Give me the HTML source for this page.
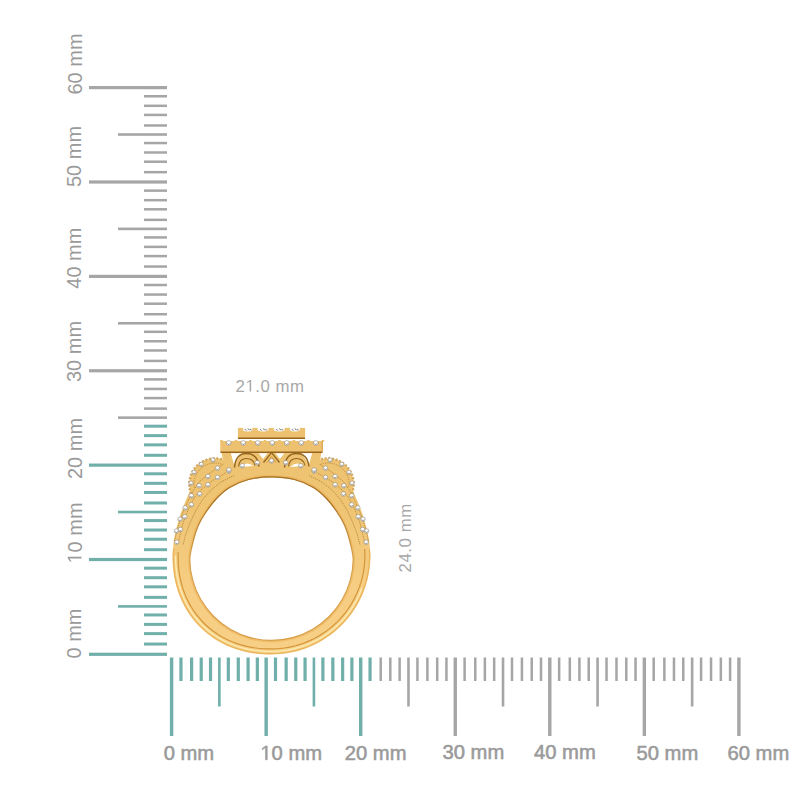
<!DOCTYPE html>
<html><head><meta charset="utf-8"><style>
html,body{margin:0;padding:0;background:#fff;width:800px;height:800px;overflow:hidden}
svg{display:block;font-family:"Liberation Sans",sans-serif}
</style></head><body>
<svg width="800" height="800" viewBox="0 0 800 800">
<rect width="800" height="800" fill="#fff"/>
<rect x="89" y="652.70" width="78" height="3.2" fill="#70afaa"/>
<rect x="144" y="642.56" width="23" height="3.0" fill="#70afaa"/>
<rect x="144" y="632.12" width="23" height="3.0" fill="#70afaa"/>
<rect x="144" y="622.89" width="23" height="3.0" fill="#70afaa"/>
<rect x="144" y="613.45" width="23" height="3.0" fill="#70afaa"/>
<rect x="118" y="605.11" width="49" height="2.6" fill="#70afaa"/>
<rect x="144" y="595.87" width="23" height="3.0" fill="#70afaa"/>
<rect x="144" y="585.33" width="23" height="3.0" fill="#70afaa"/>
<rect x="144" y="576.20" width="23" height="3.0" fill="#70afaa"/>
<rect x="144" y="566.66" width="23" height="3.0" fill="#70afaa"/>
<rect x="89" y="557.92" width="78" height="3.2" fill="#70afaa"/>
<rect x="144" y="548.18" width="23" height="3.0" fill="#70afaa"/>
<rect x="144" y="537.74" width="23" height="3.0" fill="#70afaa"/>
<rect x="144" y="528.51" width="23" height="3.0" fill="#70afaa"/>
<rect x="144" y="519.07" width="23" height="3.0" fill="#70afaa"/>
<rect x="118" y="510.73" width="49" height="2.6" fill="#70afaa"/>
<rect x="144" y="501.49" width="23" height="3.0" fill="#70afaa"/>
<rect x="144" y="490.95" width="23" height="3.0" fill="#70afaa"/>
<rect x="144" y="481.82" width="23" height="3.0" fill="#70afaa"/>
<rect x="144" y="472.28" width="23" height="3.0" fill="#70afaa"/>
<rect x="89" y="463.54" width="78" height="3.2" fill="#70afaa"/>
<rect x="144" y="453.80" width="23" height="3.0" fill="#70afaa"/>
<rect x="144" y="443.36" width="23" height="3.0" fill="#70afaa"/>
<rect x="144" y="434.13" width="23" height="3.0" fill="#70afaa"/>
<rect x="144" y="424.69" width="23" height="3.0" fill="#70afaa"/>
<rect x="118" y="416.35" width="49" height="2.6" fill="#a6a6a6"/>
<rect x="144" y="407.36" width="23" height="2.5" fill="#a6a6a6"/>
<rect x="144" y="396.82" width="23" height="2.5" fill="#a6a6a6"/>
<rect x="144" y="387.69" width="23" height="2.5" fill="#a6a6a6"/>
<rect x="144" y="378.15" width="23" height="2.5" fill="#a6a6a6"/>
<rect x="89" y="369.16" width="78" height="3.2" fill="#a6a6a6"/>
<rect x="144" y="359.67" width="23" height="2.5" fill="#a6a6a6"/>
<rect x="144" y="349.23" width="23" height="2.5" fill="#a6a6a6"/>
<rect x="144" y="340.00" width="23" height="2.5" fill="#a6a6a6"/>
<rect x="144" y="330.56" width="23" height="2.5" fill="#a6a6a6"/>
<rect x="118" y="321.97" width="49" height="2.6" fill="#a6a6a6"/>
<rect x="144" y="312.98" width="23" height="2.5" fill="#a6a6a6"/>
<rect x="144" y="302.44" width="23" height="2.5" fill="#a6a6a6"/>
<rect x="144" y="293.31" width="23" height="2.5" fill="#a6a6a6"/>
<rect x="144" y="283.77" width="23" height="2.5" fill="#a6a6a6"/>
<rect x="89" y="274.78" width="78" height="3.2" fill="#a6a6a6"/>
<rect x="144" y="265.29" width="23" height="2.5" fill="#a6a6a6"/>
<rect x="144" y="254.85" width="23" height="2.5" fill="#a6a6a6"/>
<rect x="144" y="245.62" width="23" height="2.5" fill="#a6a6a6"/>
<rect x="144" y="236.18" width="23" height="2.5" fill="#a6a6a6"/>
<rect x="118" y="227.59" width="49" height="2.6" fill="#a6a6a6"/>
<rect x="144" y="218.60" width="23" height="2.5" fill="#a6a6a6"/>
<rect x="144" y="208.06" width="23" height="2.5" fill="#a6a6a6"/>
<rect x="144" y="198.93" width="23" height="2.5" fill="#a6a6a6"/>
<rect x="144" y="189.39" width="23" height="2.5" fill="#a6a6a6"/>
<rect x="89" y="180.40" width="78" height="3.2" fill="#a6a6a6"/>
<rect x="144" y="170.91" width="23" height="2.5" fill="#a6a6a6"/>
<rect x="144" y="160.47" width="23" height="2.5" fill="#a6a6a6"/>
<rect x="144" y="151.24" width="23" height="2.5" fill="#a6a6a6"/>
<rect x="144" y="141.80" width="23" height="2.5" fill="#a6a6a6"/>
<rect x="118" y="133.21" width="49" height="2.6" fill="#a6a6a6"/>
<rect x="144" y="124.22" width="23" height="2.5" fill="#a6a6a6"/>
<rect x="144" y="113.68" width="23" height="2.5" fill="#a6a6a6"/>
<rect x="144" y="104.55" width="23" height="2.5" fill="#a6a6a6"/>
<rect x="144" y="95.01" width="23" height="2.5" fill="#a6a6a6"/>
<rect x="89" y="86.02" width="78" height="3.2" fill="#a6a6a6"/>
<rect x="169.90" y="657.5" width="3.4" height="78.5" fill="#70afaa"/>
<rect x="179.36" y="657.5" width="3.2" height="23.5" fill="#70afaa"/>
<rect x="190.01" y="657.5" width="3.2" height="23.5" fill="#70afaa"/>
<rect x="199.62" y="657.5" width="3.2" height="23.5" fill="#70afaa"/>
<rect x="208.92" y="657.5" width="3.2" height="23.5" fill="#70afaa"/>
<rect x="218.07" y="657.5" width="2.6" height="49.0" fill="#70afaa"/>
<rect x="226.73" y="657.5" width="3.2" height="23.5" fill="#70afaa"/>
<rect x="236.69" y="657.5" width="3.2" height="23.5" fill="#70afaa"/>
<rect x="246.49" y="657.5" width="3.2" height="23.5" fill="#70afaa"/>
<rect x="255.74" y="657.5" width="3.2" height="23.5" fill="#70afaa"/>
<rect x="264.45" y="657.5" width="3.4" height="78.5" fill="#70afaa"/>
<rect x="273.90" y="657.5" width="3.2" height="23.5" fill="#70afaa"/>
<rect x="284.56" y="657.5" width="3.2" height="23.5" fill="#70afaa"/>
<rect x="294.16" y="657.5" width="3.2" height="23.5" fill="#70afaa"/>
<rect x="303.47" y="657.5" width="3.2" height="23.5" fill="#70afaa"/>
<rect x="312.62" y="657.5" width="2.6" height="49.0" fill="#70afaa"/>
<rect x="321.28" y="657.5" width="3.2" height="23.5" fill="#70afaa"/>
<rect x="331.24" y="657.5" width="3.2" height="23.5" fill="#70afaa"/>
<rect x="341.04" y="657.5" width="3.2" height="23.5" fill="#70afaa"/>
<rect x="350.29" y="657.5" width="3.2" height="23.5" fill="#70afaa"/>
<rect x="359.00" y="657.5" width="3.4" height="78.5" fill="#70afaa"/>
<rect x="368.45" y="657.5" width="3.2" height="23.5" fill="#70afaa"/>
<rect x="379.46" y="657.5" width="2.5" height="23.5" fill="#a6a6a6"/>
<rect x="389.06" y="657.5" width="2.5" height="23.5" fill="#a6a6a6"/>
<rect x="398.37" y="657.5" width="2.5" height="23.5" fill="#a6a6a6"/>
<rect x="407.18" y="657.5" width="2.6" height="49.0" fill="#a6a6a6"/>
<rect x="416.18" y="657.5" width="2.5" height="23.5" fill="#a6a6a6"/>
<rect x="426.13" y="657.5" width="2.5" height="23.5" fill="#a6a6a6"/>
<rect x="435.94" y="657.5" width="2.5" height="23.5" fill="#a6a6a6"/>
<rect x="445.19" y="657.5" width="2.5" height="23.5" fill="#a6a6a6"/>
<rect x="453.55" y="657.5" width="3.4" height="78.5" fill="#a6a6a6"/>
<rect x="463.36" y="657.5" width="2.5" height="23.5" fill="#a6a6a6"/>
<rect x="474.01" y="657.5" width="2.5" height="23.5" fill="#a6a6a6"/>
<rect x="483.62" y="657.5" width="2.5" height="23.5" fill="#a6a6a6"/>
<rect x="492.92" y="657.5" width="2.5" height="23.5" fill="#a6a6a6"/>
<rect x="501.72" y="657.5" width="2.6" height="49.0" fill="#a6a6a6"/>
<rect x="510.73" y="657.5" width="2.5" height="23.5" fill="#a6a6a6"/>
<rect x="520.68" y="657.5" width="2.5" height="23.5" fill="#a6a6a6"/>
<rect x="530.49" y="657.5" width="2.5" height="23.5" fill="#a6a6a6"/>
<rect x="539.75" y="657.5" width="2.5" height="23.5" fill="#a6a6a6"/>
<rect x="548.10" y="657.5" width="3.4" height="78.5" fill="#a6a6a6"/>
<rect x="557.90" y="657.5" width="2.5" height="23.5" fill="#a6a6a6"/>
<rect x="568.56" y="657.5" width="2.5" height="23.5" fill="#a6a6a6"/>
<rect x="578.16" y="657.5" width="2.5" height="23.5" fill="#a6a6a6"/>
<rect x="587.47" y="657.5" width="2.5" height="23.5" fill="#a6a6a6"/>
<rect x="596.28" y="657.5" width="2.6" height="49.0" fill="#a6a6a6"/>
<rect x="605.28" y="657.5" width="2.5" height="23.5" fill="#a6a6a6"/>
<rect x="615.24" y="657.5" width="2.5" height="23.5" fill="#a6a6a6"/>
<rect x="625.04" y="657.5" width="2.5" height="23.5" fill="#a6a6a6"/>
<rect x="634.29" y="657.5" width="2.5" height="23.5" fill="#a6a6a6"/>
<rect x="642.65" y="657.5" width="3.4" height="78.5" fill="#a6a6a6"/>
<rect x="652.45" y="657.5" width="2.5" height="23.5" fill="#a6a6a6"/>
<rect x="663.11" y="657.5" width="2.5" height="23.5" fill="#a6a6a6"/>
<rect x="672.72" y="657.5" width="2.5" height="23.5" fill="#a6a6a6"/>
<rect x="682.02" y="657.5" width="2.5" height="23.5" fill="#a6a6a6"/>
<rect x="690.83" y="657.5" width="2.6" height="49.0" fill="#a6a6a6"/>
<rect x="699.83" y="657.5" width="2.5" height="23.5" fill="#a6a6a6"/>
<rect x="709.79" y="657.5" width="2.5" height="23.5" fill="#a6a6a6"/>
<rect x="719.59" y="657.5" width="2.5" height="23.5" fill="#a6a6a6"/>
<rect x="728.85" y="657.5" width="2.5" height="23.5" fill="#a6a6a6"/>
<rect x="737.20" y="657.5" width="3.4" height="78.5" fill="#a6a6a6"/>
<text x="163.70" y="759.60" font-size="20.2" fill="#9a9a9a" stroke="#9a9a9a" stroke-width="0.55">0 mm</text>
<path d="M515,0 L515,1237 L197,1010 L197,1180 L530,1409 L696,1409 L696,0 Z" fill="#9a9a9a" stroke="#9a9a9a" stroke-width="55.8" transform="translate(260.40,759.80) scale(0.009863,-0.009863)"/>
<text x="260.40" y="759.80" font-size="20.2" fill="#9a9a9a" stroke="#9a9a9a" stroke-width="0.55"> 0 mm</text>
<text x="344.80" y="760.00" font-size="20.2" fill="#9a9a9a" stroke="#9a9a9a" stroke-width="0.55">20 mm</text>
<text x="442.50" y="758.50" font-size="20.2" fill="#9a9a9a" stroke="#9a9a9a" stroke-width="0.55">30 mm</text>
<text x="534.00" y="758.50" font-size="20.2" fill="#9a9a9a" stroke="#9a9a9a" stroke-width="0.55">40 mm</text>
<text x="636.50" y="759.75" font-size="20.2" fill="#9a9a9a" stroke="#9a9a9a" stroke-width="0.55">50 mm</text>
<text x="727.50" y="760.00" font-size="20.2" fill="#9a9a9a" stroke="#9a9a9a" stroke-width="0.55">60 mm</text>
<text transform="translate(81.20,658.50) rotate(-90)" font-size="20" fill="#9a9a9a">0 mm</text>
<g transform="translate(81.50,563.50) rotate(-90)"><path d="M515,0 L515,1237 L197,1010 L197,1180 L530,1409 L696,1409 L696,0 Z" fill="#9a9a9a" transform="translate(0.00,0.00) scale(0.009766,-0.009766)"/></g>
<text transform="translate(81.50,563.50) rotate(-90)" font-size="20" fill="#9a9a9a"> 0 mm</text>
<text transform="translate(82.00,479.00) rotate(-90)" font-size="20" fill="#9a9a9a">20 mm</text>
<text transform="translate(80.50,382.00) rotate(-90)" font-size="20" fill="#9a9a9a">30 mm</text>
<text transform="translate(80.70,288.70) rotate(-90)" font-size="20" fill="#9a9a9a">40 mm</text>
<text transform="translate(81.00,187.00) rotate(-90)" font-size="20" fill="#9a9a9a">50 mm</text>
<text transform="translate(82.00,94.50) rotate(-90)" font-size="20" fill="#9a9a9a">60 mm</text>
<path d="M515,0 L515,1237 L197,1010 L197,1180 L530,1409 L696,1409 L696,0 Z" fill="#a8a8a8" transform="translate(245.44,391.60) scale(0.008203,-0.008203)"/>
<text x="235.60" y="391.60" font-size="16.8" letter-spacing="0.5" fill="#a8a8a8">2 .0 mm</text>
<text transform="translate(411.10,572.40) rotate(-90)" font-size="16.8" letter-spacing="0.55" fill="#a8a8a8">24.0 mm</text>
<defs><linearGradient id="goldg" gradientUnits="userSpaceOnUse" x1="0" y1="430" x2="0" y2="655"><stop offset="0" stop-color="#ECC06E"/><stop offset="0.35" stop-color="#EFC574"/><stop offset="0.7" stop-color="#F6CD82"/><stop offset="1" stop-color="#F7CF86"/></linearGradient></defs>
<path d="M271.50,461.50 L250.00,462.50 L232.00,466.00 L214.00,474.00 L198.00,484.00 L190.40,489.90 L185.60,500.90 L180.80,513.25 L176.70,527.00 L173.90,539.40 L172.60,553.00 L172.56,560.69 L172.83,565.87 L173.35,571.05 L174.11,576.20 L175.12,581.32 L176.40,586.40 L177.95,591.41 L179.77,596.34 L181.86,601.17 L184.23,605.89 L186.86,610.47 L189.76,614.89 L192.91,619.14 L196.31,623.20 L199.94,627.06 L203.80,630.69 L207.86,634.09 L212.11,637.24 L216.53,640.14 L221.11,642.77 L225.83,645.14 L230.66,647.23 L235.59,649.05 L240.60,650.60 L245.68,651.88 L250.80,652.89 L255.95,653.65 L261.13,654.17 L266.31,654.44 L271.50,654.50 L276.68,654.36 L281.85,653.96 L286.99,653.28 L292.08,652.34 L297.12,651.13 L302.09,649.65 L306.98,647.92 L311.77,645.94 L316.45,643.71 L321.00,641.24 L325.42,638.53 L329.69,635.59 L333.80,632.44 L337.74,629.07 L341.50,625.50 L345.07,621.74 L348.44,617.80 L351.59,613.69 L354.53,609.42 L357.24,605.00 L359.71,600.45 L361.94,595.77 L363.92,590.98 L365.65,586.09 L367.13,581.12 L368.34,576.08 L369.28,570.99 L369.96,565.85 L370.36,560.68 L370.50,555.50 L369.10,539.40 L366.30,527.00 L362.20,513.25 L357.40,500.90 L352.60,489.90 L345.00,484.00 L329.00,474.00 L311.00,466.00 L293.00,462.50 L271.50,461.50 Z" fill="url(#goldg)"/>
<circle cx="215" cy="484" r="25.6" fill="url(#goldg)"/>
<circle cx="190.76" cy="492.82" r="0.9" fill="url(#goldg)" stroke="#B07E30" stroke-width="0.5"/>
<circle cx="189.74" cy="489.26" r="0.9" fill="url(#goldg)" stroke="#B07E30" stroke-width="0.5"/>
<circle cx="189.25" cy="485.59" r="0.9" fill="url(#goldg)" stroke="#B07E30" stroke-width="0.5"/>
<circle cx="189.29" cy="481.88" r="0.9" fill="url(#goldg)" stroke="#B07E30" stroke-width="0.5"/>
<circle cx="189.86" cy="478.22" r="0.9" fill="url(#goldg)" stroke="#B07E30" stroke-width="0.5"/>
<circle cx="190.94" cy="474.68" r="0.9" fill="url(#goldg)" stroke="#B07E30" stroke-width="0.5"/>
<circle cx="192.53" cy="471.33" r="0.9" fill="url(#goldg)" stroke="#B07E30" stroke-width="0.5"/>
<circle cx="194.57" cy="468.24" r="0.9" fill="url(#goldg)" stroke="#B07E30" stroke-width="0.5"/>
<circle cx="197.04" cy="465.48" r="0.9" fill="url(#goldg)" stroke="#B07E30" stroke-width="0.5"/>
<circle cx="199.88" cy="463.10" r="0.9" fill="url(#goldg)" stroke="#B07E30" stroke-width="0.5"/>
<circle cx="203.03" cy="461.15" r="0.9" fill="url(#goldg)" stroke="#B07E30" stroke-width="0.5"/>
<circle cx="206.43" cy="459.67" r="0.9" fill="url(#goldg)" stroke="#B07E30" stroke-width="0.5"/>
<circle cx="210.00" cy="458.69" r="0.9" fill="url(#goldg)" stroke="#B07E30" stroke-width="0.5"/>
<circle cx="213.68" cy="458.23" r="0.9" fill="url(#goldg)" stroke="#B07E30" stroke-width="0.5"/>
<circle cx="217.38" cy="458.31" r="0.9" fill="url(#goldg)" stroke="#B07E30" stroke-width="0.5"/>
<circle cx="221.04" cy="458.92" r="0.9" fill="url(#goldg)" stroke="#B07E30" stroke-width="0.5"/>
<circle cx="224.57" cy="460.04" r="0.9" fill="url(#goldg)" stroke="#B07E30" stroke-width="0.5"/>
<circle cx="227.90" cy="461.66" r="0.9" fill="url(#goldg)" stroke="#B07E30" stroke-width="0.5"/>
<path d="M194.32,487.65 L194.12,486.20 L194.01,484.73 L194.01,483.27 L194.12,481.80 L194.32,480.35 L194.62,478.92 L195.03,477.51 L195.53,476.13 L196.13,474.79 L196.81,473.50 L197.59,472.26 L198.45,471.07 L199.39,469.95 L200.41,468.89 L201.50,467.91 L202.66,467.01 L203.87,466.19 L205.14,465.46 L206.46,464.82 L207.82,464.27 L209.21,463.81 L210.63,463.46 L212.08,463.20 L213.54,463.05 L215.00,463.00 L216.46,463.05 L217.92,463.20 L219.37,463.46 L220.79,463.81 L222.18,464.27" fill="none" stroke="#B07E30" stroke-width="0.7" stroke-dasharray="1.2 1"/>
<circle cx="328" cy="484" r="25.6" fill="url(#goldg)"/>
<circle cx="315.10" cy="461.66" r="0.9" fill="url(#goldg)" stroke="#B07E30" stroke-width="0.5"/>
<circle cx="318.43" cy="460.04" r="0.9" fill="url(#goldg)" stroke="#B07E30" stroke-width="0.5"/>
<circle cx="321.96" cy="458.92" r="0.9" fill="url(#goldg)" stroke="#B07E30" stroke-width="0.5"/>
<circle cx="325.62" cy="458.31" r="0.9" fill="url(#goldg)" stroke="#B07E30" stroke-width="0.5"/>
<circle cx="329.32" cy="458.23" r="0.9" fill="url(#goldg)" stroke="#B07E30" stroke-width="0.5"/>
<circle cx="333.00" cy="458.69" r="0.9" fill="url(#goldg)" stroke="#B07E30" stroke-width="0.5"/>
<circle cx="336.57" cy="459.67" r="0.9" fill="url(#goldg)" stroke="#B07E30" stroke-width="0.5"/>
<circle cx="339.97" cy="461.15" r="0.9" fill="url(#goldg)" stroke="#B07E30" stroke-width="0.5"/>
<circle cx="343.12" cy="463.10" r="0.9" fill="url(#goldg)" stroke="#B07E30" stroke-width="0.5"/>
<circle cx="345.96" cy="465.48" r="0.9" fill="url(#goldg)" stroke="#B07E30" stroke-width="0.5"/>
<circle cx="348.43" cy="468.24" r="0.9" fill="url(#goldg)" stroke="#B07E30" stroke-width="0.5"/>
<circle cx="350.47" cy="471.33" r="0.9" fill="url(#goldg)" stroke="#B07E30" stroke-width="0.5"/>
<circle cx="352.06" cy="474.68" r="0.9" fill="url(#goldg)" stroke="#B07E30" stroke-width="0.5"/>
<circle cx="353.14" cy="478.22" r="0.9" fill="url(#goldg)" stroke="#B07E30" stroke-width="0.5"/>
<circle cx="353.71" cy="481.88" r="0.9" fill="url(#goldg)" stroke="#B07E30" stroke-width="0.5"/>
<circle cx="353.75" cy="485.59" r="0.9" fill="url(#goldg)" stroke="#B07E30" stroke-width="0.5"/>
<circle cx="353.26" cy="489.26" r="0.9" fill="url(#goldg)" stroke="#B07E30" stroke-width="0.5"/>
<circle cx="352.24" cy="492.82" r="0.9" fill="url(#goldg)" stroke="#B07E30" stroke-width="0.5"/>
<path d="M320.82,464.27 L322.21,463.81 L323.63,463.46 L325.08,463.20 L326.54,463.05 L328.00,463.00 L329.46,463.05 L330.92,463.20 L332.37,463.46 L333.79,463.81 L335.18,464.27 L336.54,464.82 L337.86,465.46 L339.13,466.19 L340.34,467.01 L341.50,467.91 L342.59,468.89 L343.61,469.95 L344.55,471.07 L345.41,472.26 L346.19,473.50 L346.87,474.79 L347.47,476.13 L347.97,477.51 L348.38,478.92 L348.68,480.35 L348.88,481.80 L348.99,483.27 L348.99,484.73 L348.88,486.20 L348.68,487.65" fill="none" stroke="#B07E30" stroke-width="0.7" stroke-dasharray="1.2 1"/>
<path d="M178.16,552.24 L178.10,556.03 L178.14,559.82 L178.29,563.61 L178.58,567.40 L179.00,571.19 L179.57,574.96 L180.28,578.71 L181.14,582.44 L182.15,586.14 L183.31,589.79 L184.63,593.41 L186.10,596.97 L187.73,600.46 L189.51,603.89 L191.45,607.24 L193.53,610.50 L195.77,613.66 L198.15,616.72 L200.66,619.67 L203.31,622.51 L206.09,625.21 L208.99,627.79 L212.01,630.23 L215.13,632.52 L218.35,634.67 L221.66,636.67 L225.05,638.52 L228.52,640.22 L232.05,641.76 L235.65,643.14 L239.29,644.37 L242.97,645.45 L246.68,646.37 L250.43,647.14 L254.19,647.77 L257.97,648.25 L261.76,648.60 L265.55,648.81 L269.34,648.90 L273.13,648.89 L276.92,648.74 L280.70,648.45 L284.46,648.00 L288.20,647.39 L291.91,646.64 L295.59,645.74 L299.24,644.69 L302.83,643.49 L306.37,642.14 L309.86,640.66 L313.28,639.03 L316.64,637.27 L319.92,635.37 L323.12,633.34 L326.23,631.18 L329.26,628.90 L332.19,626.50 L335.02,623.97 L337.75,621.34 L340.36,618.60 L342.86,615.75 L345.25,612.81 L347.51,609.77 L349.65,606.64 L351.66,603.43 L353.54,600.14 L355.29,596.77 L356.89,593.34 L358.36,589.84 L359.68,586.29 L360.85,582.69 L361.88,579.04 L362.76,575.36 L363.50,571.64 L364.07,567.89 L364.50,564.13 L364.77,560.35 L364.89,556.56 L364.86,552.77 L364.67,548.98" fill="none" stroke="#D4963A" stroke-width="1.2"/>
<path d="M175.60,555.50 L175.62,558.85 L175.72,562.20 L175.92,565.55 L176.22,568.89 L176.62,572.23 L177.14,575.56 L177.76,578.87 L178.50,582.17 L179.35,585.44 L180.32,588.69 L181.40,591.90 L182.60,595.08 L183.92,598.21 L185.36,601.30 L186.91,604.34 L188.58,607.31 L190.37,610.22 L192.26,613.07 L194.27,615.84 L196.39,618.53 L198.61,621.13 L200.93,623.64 L203.36,626.07 L205.87,628.39 L208.47,630.61 L211.16,632.73 L213.93,634.74 L216.78,636.63 L219.69,638.42 L222.66,640.09 L225.70,641.64 L228.79,643.08 L231.92,644.40 L235.10,645.60 L238.31,646.68 L241.56,647.65 L244.83,648.50 L248.13,649.24 L251.44,649.86 L254.77,650.38 L258.11,650.78 L261.45,651.08 L264.80,651.28 L268.15,651.38 L271.50,651.40 L274.85,651.34 L278.19,651.17 L281.52,650.87 L284.85,650.47 L288.15,649.94 L291.44,649.30 L294.70,648.55 L297.93,647.68 L301.13,646.71 L304.30,645.62 L307.42,644.42 L310.51,643.11 L313.54,641.69 L316.52,640.17 L319.45,638.55 L322.32,636.83 L325.13,635.00 L327.87,633.08 L330.54,631.07 L333.14,628.96 L335.67,626.77 L338.12,624.48 L340.48,622.12 L342.77,619.67 L344.96,617.14 L347.07,614.54 L349.08,611.87 L351.00,609.13 L352.83,606.32 L354.55,603.45 L356.17,600.52 L357.69,597.54 L359.11,594.51 L360.42,591.42 L361.62,588.30" fill="none" stroke="#FCEBB0" stroke-width="1.4"/>
<path d="M173.64,548.66 L173.44,552.68 L173.40,556.70 L173.46,560.72 L173.66,564.75 L173.99,568.77 L174.48,572.78 L175.12,576.78 L175.92,580.75 L176.87,584.70 L177.99,588.61 L179.27,592.48 L180.72,596.30 L182.34,600.05 L184.12,603.74 L186.06,607.35 L188.17,610.87 L190.43,614.29 L192.86,617.61 L195.43,620.81 L198.15,623.90 L201.01,626.85 L204.01,629.67 L207.13,632.35 L210.37,634.88 L213.72,637.26 L217.17,639.48 L220.72,641.53 L224.35,643.43 L228.06,645.16 L231.83,646.73 L235.67,648.12 L239.55,649.36 L243.47,650.43 L247.43,651.34 L251.41,652.09 L255.41,652.68 L259.43,653.12 L263.45,653.41 L267.48,653.57 L271.50,653.60 L275.52,653.52 L279.54,653.27 L283.54,652.86 L287.52,652.28 L291.48,651.54 L295.40,650.64 L299.28,649.58 L303.11,648.37 L306.90,646.99 L310.62,645.46 L314.27,643.78 L317.86,641.96 L321.36,639.98 L324.79,637.87 L328.12,635.61 L331.36,633.22 L334.49,630.70 L337.52,628.06 L340.44,625.29 L343.25,622.40 L345.93,619.41 L348.49,616.30 L350.91,613.09 L353.21,609.79 L355.37,606.39 L357.38,602.91 L359.25,599.35 L360.98,595.71 L362.55,592.01 L363.97,588.25 L365.24,584.43 L366.35,580.56 L367.29,576.65 L368.08,572.70 L368.70,568.73 L369.16,564.73 L369.46,560.72 L369.59,556.70 L369.56,552.68 L369.36,548.66" fill="none" stroke="#EAB45C" stroke-width="1.2"/>
<path d="M224.50,463.40 L210.00,473.00 L200.00,481.00 L193.90,489.60 L187.00,503.00 L181.00,517.00 L176.50,532.00 L174.50,542.00" fill="none" stroke="#B07E30" stroke-width="0.8" stroke-dasharray="1.3 0.9"/>
<path d="M318.50,463.40 L333.00,473.00 L343.00,481.00 L349.10,489.60 L356.00,503.00 L362.00,517.00 L366.50,532.00 L368.50,542.00" fill="none" stroke="#B07E30" stroke-width="0.8" stroke-dasharray="1.3 0.9"/>
<path d="M225.40,473.00 L212.00,481.00 L202.00,489.00 L194.00,498.00 L188.00,510.00 L183.00,523.00 L179.50,537.00 L178.00,545.00" fill="none" stroke="#B07E30" stroke-width="0.8" stroke-dasharray="1.3 0.9"/>
<path d="M317.60,473.00 L331.00,481.00 L341.00,489.00 L349.00,498.00 L355.00,510.00 L360.00,523.00 L363.50,537.00 L365.00,545.00" fill="none" stroke="#B07E30" stroke-width="0.8" stroke-dasharray="1.3 0.9"/>
<path d="M234.00,475.50 L221.00,482.00 L211.00,490.00 L203.00,499.00 L196.00,510.00 L190.00,523.00 L185.50,535.00 L183.00,545.00" fill="none" stroke="#B07E30" stroke-width="0.8" stroke-dasharray="1.3 0.9"/>
<path d="M309.00,475.50 L322.00,482.00 L332.00,490.00 L340.00,499.00 L347.00,510.00 L353.00,523.00 L357.50,535.00 L360.00,545.00" fill="none" stroke="#B07E30" stroke-width="0.8" stroke-dasharray="1.3 0.9"/>
<path d="M221.5,452 L231,452 L235,470 L308,470 L312,452 L321.5,452 L318,472 L225,472 Z" fill="url(#goldg)"/>
<rect x="229" y="452" width="85" height="14" fill="url(#goldg)"/>
<rect x="220.25" y="441" width="102.5" height="11.3" fill="url(#goldg)"/>
<rect x="220.20" y="440" width="2.6" height="1.6" fill="url(#goldg)"/>
<rect x="234.70" y="440" width="2.6" height="1.6" fill="url(#goldg)"/>
<rect x="249.20" y="440" width="2.6" height="1.6" fill="url(#goldg)"/>
<rect x="263.70" y="440" width="2.6" height="1.6" fill="url(#goldg)"/>
<rect x="278.20" y="440" width="2.6" height="1.6" fill="url(#goldg)"/>
<rect x="292.70" y="440" width="2.6" height="1.6" fill="url(#goldg)"/>
<rect x="307.20" y="440" width="2.6" height="1.6" fill="url(#goldg)"/>
<rect x="321.70" y="440" width="2.6" height="1.6" fill="url(#goldg)"/>
<line x1="220.5" y1="452.2" x2="322.5" y2="452.2" stroke="#96661E" stroke-width="1.6"/>
<line x1="322.3" y1="441" x2="322.3" y2="452" stroke="#D4963A" stroke-width="0.8"/>
<rect x="237.9" y="430.5" width="67.2" height="8.5" fill="url(#goldg)"/>
<rect x="237.9" y="427.9" width="5.30" height="3" fill="url(#goldg)"/>
<rect x="252.3" y="427.9" width="5.30" height="3" fill="url(#goldg)"/>
<rect x="268.4" y="427.9" width="5.40" height="3" fill="url(#goldg)"/>
<rect x="284.6" y="427.9" width="5.30" height="3" fill="url(#goldg)"/>
<rect x="299.8" y="427.9" width="5.30" height="3" fill="url(#goldg)"/>
<line x1="238" y1="438.3" x2="305" y2="438.3" stroke="#96661E" stroke-width="1.5"/>
<path d="M230.80,453.20 L241.50,453.20 L234.00,464.50 Z" fill="#fff"/>
<path d="M312.20,453.20 L301.50,453.20 L309.00,464.50 Z" fill="#fff"/>
<path d="M258.50,453.20 L267.50,453.20 L263.20,459.00 Z" fill="#fff"/>
<path d="M284.50,453.20 L275.50,453.20 L279.80,459.00 Z" fill="#fff"/>
<path d="M234.5,467.5 Q235.5,453.5 246.5,453.5 Q257.5,453.5 259.0,466.5" fill="none" stroke="#96661E" stroke-width="1.4"/><path d="M238.5,466.5 Q239.5,458.5 246.5,458.5 Q253.5,458.5 255.0,465.5" fill="none" stroke="#96661E" stroke-width="1.1"/><path d="M240.0,467 Q246.5,460.5 253.5,466 Z" fill="#fff"/>
<path d="M284.5,467.5 Q285.5,453.5 296.5,453.5 Q307.5,453.5 309.0,466.5" fill="none" stroke="#96661E" stroke-width="1.4"/><path d="M288.5,466.5 Q289.5,458.5 296.5,458.5 Q303.5,458.5 305.0,465.5" fill="none" stroke="#96661E" stroke-width="1.1"/><path d="M290.0,467 Q296.5,460.5 303.5,466 Z" fill="#fff"/>
<path d="M263.5,462.5 L271.5,452.5 L279.5,462.5" fill="none" stroke="#96661E" stroke-width="1.3"/>
<path d="M267,462.5 L271.5,456.5 L276,462.5" fill="none" stroke="#D4963A" stroke-width="0.9"/>
<path d="M189.90,558.80 C190.04,552.15 192.07,545.63 193.50,540.00 C194.93,534.37 196.42,529.67 198.50,525.00 C200.58,520.33 203.00,516.42 206.00,512.00 C209.00,507.58 212.58,502.58 216.50,498.50 C220.42,494.42 224.17,490.67 229.50,487.50 C234.83,484.33 241.50,481.27 248.50,479.50 C255.50,477.73 263.83,476.90 271.50,476.90 C279.17,476.90 287.50,477.73 294.50,479.50 C301.50,481.27 308.17,484.33 313.50,487.50 C318.83,490.67 322.58,494.42 326.50,498.50 C330.42,502.58 334.00,507.58 337.00,512.00 C340.00,516.42 342.42,520.33 344.50,525.00 C346.58,529.67 348.07,534.37 349.50,540.00 C350.93,545.63 352.96,552.15 353.10,558.80 C353.24,565.45 352.14,573.12 350.32,579.92 C348.50,586.72 345.69,593.50 342.17,599.60 C338.65,605.70 334.18,611.52 329.20,616.50 C324.22,621.48 318.40,625.95 312.30,629.47 C306.20,632.99 299.42,635.80 292.62,637.62 C285.82,639.44 278.54,640.40 271.50,640.40 C264.46,640.40 257.18,639.44 250.38,637.62 C243.58,635.80 236.80,632.99 230.70,629.47 C224.60,625.95 218.78,621.48 213.80,616.50 C208.82,611.52 204.35,605.70 200.83,599.60 C197.31,593.50 194.50,586.72 192.68,579.92 C190.86,573.12 189.76,565.45 189.90,558.80 Z" fill="#fff"/>
<path d="M189.90,558.80 C190.04,552.15 192.07,545.63 193.50,540.00 C194.93,534.37 196.42,529.67 198.50,525.00 C200.58,520.33 203.00,516.42 206.00,512.00 C209.00,507.58 212.58,502.58 216.50,498.50 C220.42,494.42 224.17,490.67 229.50,487.50 C234.83,484.33 241.50,481.27 248.50,479.50 C255.50,477.73 263.83,476.90 271.50,476.90 C279.17,476.90 287.50,477.73 294.50,479.50 C301.50,481.27 308.17,484.33 313.50,487.50 C318.83,490.67 322.58,494.42 326.50,498.50 C330.42,502.58 334.00,507.58 337.00,512.00 C340.00,516.42 342.42,520.33 344.50,525.00 C346.58,529.67 348.07,534.37 349.50,540.00 C350.93,545.63 352.96,552.15 353.10,558.80 C353.24,565.45 352.14,573.12 350.32,579.92 C348.50,586.72 345.69,593.50 342.17,599.60 C338.65,605.70 334.18,611.52 329.20,616.50 C324.22,621.48 318.40,625.95 312.30,629.47 C306.20,632.99 299.42,635.80 292.62,637.62 C285.82,639.44 278.54,640.40 271.50,640.40 C264.46,640.40 257.18,639.44 250.38,637.62 C243.58,635.80 236.80,632.99 230.70,629.47 C224.60,625.95 218.78,621.48 213.80,616.50 C208.82,611.52 204.35,605.70 200.83,599.60 C197.31,593.50 194.50,586.72 192.68,579.92 C190.86,573.12 189.76,565.45 189.90,558.80 Z" fill="none" stroke="#E8AC50" stroke-width="4" stroke-opacity="0.45"/>
<path d="M189.90,558.80 C190.04,552.15 192.07,545.63 193.50,540.00 C194.93,534.37 196.42,529.67 198.50,525.00 C200.58,520.33 203.00,516.42 206.00,512.00 C209.00,507.58 212.58,502.58 216.50,498.50 C220.42,494.42 224.17,490.67 229.50,487.50 C234.83,484.33 241.50,481.27 248.50,479.50 C255.50,477.73 263.83,476.90 271.50,476.90 C279.17,476.90 287.50,477.73 294.50,479.50 C301.50,481.27 308.17,484.33 313.50,487.50 C318.83,490.67 322.58,494.42 326.50,498.50 C330.42,502.58 334.00,507.58 337.00,512.00 C340.00,516.42 342.42,520.33 344.50,525.00 C346.58,529.67 348.07,534.37 349.50,540.00 C350.93,545.63 352.96,552.15 353.10,558.80 C353.24,565.45 352.14,573.12 350.32,579.92 C348.50,586.72 345.69,593.50 342.17,599.60 C338.65,605.70 334.18,611.52 329.20,616.50 C324.22,621.48 318.40,625.95 312.30,629.47 C306.20,632.99 299.42,635.80 292.62,637.62 C285.82,639.44 278.54,640.40 271.50,640.40 C264.46,640.40 257.18,639.44 250.38,637.62 C243.58,635.80 236.80,632.99 230.70,629.47 C224.60,625.95 218.78,621.48 213.80,616.50 C208.82,611.52 204.35,605.70 200.83,599.60 C197.31,593.50 194.50,586.72 192.68,579.92 C190.86,573.12 189.76,565.45 189.90,558.80 Z" fill="#fff"/>
<path d="M189.90,558.80 C190.04,552.15 192.07,545.63 193.50,540.00 C194.93,534.37 196.42,529.67 198.50,525.00 C200.58,520.33 203.00,516.42 206.00,512.00 C209.00,507.58 212.58,502.58 216.50,498.50 C220.42,494.42 224.17,490.67 229.50,487.50 C234.83,484.33 241.50,481.27 248.50,479.50 C255.50,477.73 263.83,476.90 271.50,476.90 C279.17,476.90 287.50,477.73 294.50,479.50 C301.50,481.27 308.17,484.33 313.50,487.50 C318.83,490.67 322.58,494.42 326.50,498.50 C330.42,502.58 334.00,507.58 337.00,512.00 C340.00,516.42 342.42,520.33 344.50,525.00 C346.58,529.67 348.07,534.37 349.50,540.00 C350.93,545.63 352.96,552.15 353.10,558.80 C353.24,565.45 352.14,573.12 350.32,579.92 C348.50,586.72 345.69,593.50 342.17,599.60 C338.65,605.70 334.18,611.52 329.20,616.50 C324.22,621.48 318.40,625.95 312.30,629.47 C306.20,632.99 299.42,635.80 292.62,637.62 C285.82,639.44 278.54,640.40 271.50,640.40 C264.46,640.40 257.18,639.44 250.38,637.62 C243.58,635.80 236.80,632.99 230.70,629.47 C224.60,625.95 218.78,621.48 213.80,616.50 C208.82,611.52 204.35,605.70 200.83,599.60 C197.31,593.50 194.50,586.72 192.68,579.92 C190.86,573.12 189.76,565.45 189.90,558.80 Z" fill="none" stroke="#D4963A" stroke-width="1.1" stroke-opacity="0.9"/>
<defs><linearGradient id="fade" gradientUnits="userSpaceOnUse" x1="0" y1="500" x2="0" y2="560"><stop offset="0" stop-color="#A06C22" stop-opacity="0.85"/><stop offset="1" stop-color="#A06C22" stop-opacity="0"/></linearGradient></defs>
<path d="M189.90,558.80 C190.50,555.67 192.07,545.63 193.50,540.00 C194.93,534.37 196.42,529.67 198.50,525.00 C200.58,520.33 203.00,516.42 206.00,512.00 C209.00,507.58 212.58,502.58 216.50,498.50 C220.42,494.42 224.17,490.67 229.50,487.50 C234.83,484.33 241.50,481.27 248.50,479.50 C255.50,477.73 263.83,476.90 271.50,476.90 C279.17,476.90 287.50,477.73 294.50,479.50 C301.50,481.27 308.17,484.33 313.50,487.50 C318.83,490.67 322.58,494.42 326.50,498.50 C330.42,502.58 334.00,507.58 337.00,512.00 C340.00,516.42 342.42,520.33 344.50,525.00 C346.58,529.67 348.07,534.37 349.50,540.00 C350.93,545.63 352.50,555.67 353.10,558.80" fill="none" stroke="url(#fade)" stroke-width="1.1"/>
<circle cx="228.75" cy="443.00" r="2.43" fill="#FFFFFF" stroke="#85817B" stroke-width="0.55"/><path d="M227.41,443.24 L228.75,444.82 L230.09,443.24" fill="none" stroke="#6E6A64" stroke-width="0.6"/>
<circle cx="243.25" cy="443.00" r="2.43" fill="#FFFFFF" stroke="#85817B" stroke-width="0.55"/><path d="M241.91,443.24 L243.25,444.82 L244.59,443.24" fill="none" stroke="#6E6A64" stroke-width="0.6"/>
<circle cx="257.75" cy="443.00" r="2.43" fill="#FFFFFF" stroke="#85817B" stroke-width="0.55"/><path d="M256.41,443.24 L257.75,444.82 L259.09,443.24" fill="none" stroke="#6E6A64" stroke-width="0.6"/>
<circle cx="272.25" cy="443.00" r="2.43" fill="#FFFFFF" stroke="#85817B" stroke-width="0.55"/><path d="M270.91,443.24 L272.25,444.82 L273.59,443.24" fill="none" stroke="#6E6A64" stroke-width="0.6"/>
<circle cx="286.75" cy="443.00" r="2.43" fill="#FFFFFF" stroke="#85817B" stroke-width="0.55"/><path d="M285.41,443.24 L286.75,444.82 L288.09,443.24" fill="none" stroke="#6E6A64" stroke-width="0.6"/>
<circle cx="301.25" cy="443.00" r="2.43" fill="#FFFFFF" stroke="#85817B" stroke-width="0.55"/><path d="M299.91,443.24 L301.25,444.82 L302.59,443.24" fill="none" stroke="#6E6A64" stroke-width="0.6"/>
<circle cx="315.75" cy="443.00" r="2.43" fill="#FFFFFF" stroke="#85817B" stroke-width="0.55"/><path d="M314.41,443.24 L315.75,444.82 L317.09,443.24" fill="none" stroke="#6E6A64" stroke-width="0.6"/>
<circle cx="271.50" cy="460.90" r="2.27" fill="#FFFFFF" stroke="#85817B" stroke-width="0.55"/><path d="M270.25,461.13 L271.50,462.60 L272.75,461.13" fill="none" stroke="#6E6A64" stroke-width="0.6"/>
<circle cx="285.75" cy="462.75" r="2.27" fill="#FFFFFF" stroke="#85817B" stroke-width="0.55"/><path d="M284.50,462.98 L285.75,464.45 L287.00,462.98" fill="none" stroke="#6E6A64" stroke-width="0.6"/>
<circle cx="257.25" cy="462.75" r="2.27" fill="#FFFFFF" stroke="#85817B" stroke-width="0.55"/><path d="M256.00,462.98 L257.25,464.45 L258.50,462.98" fill="none" stroke="#6E6A64" stroke-width="0.6"/>
<circle cx="300.75" cy="465.75" r="2.27" fill="#FFFFFF" stroke="#85817B" stroke-width="0.55"/><path d="M299.50,465.98 L300.75,467.45 L302.00,465.98" fill="none" stroke="#6E6A64" stroke-width="0.6"/>
<circle cx="242.25" cy="465.75" r="2.27" fill="#FFFFFF" stroke="#85817B" stroke-width="0.55"/><path d="M241.00,465.98 L242.25,467.45 L243.50,465.98" fill="none" stroke="#6E6A64" stroke-width="0.6"/>
<circle cx="314.25" cy="471.00" r="2.27" fill="#FFFFFF" stroke="#85817B" stroke-width="0.55"/><path d="M313.00,471.23 L314.25,472.70 L315.50,471.23" fill="none" stroke="#6E6A64" stroke-width="0.6"/>
<circle cx="228.75" cy="471.00" r="2.27" fill="#FFFFFF" stroke="#85817B" stroke-width="0.55"/><path d="M227.50,471.23 L228.75,472.70 L230.00,471.23" fill="none" stroke="#6E6A64" stroke-width="0.6"/>
<circle cx="191.01" cy="483.16" r="2.16" fill="#FFFFFF" stroke="#85817B" stroke-width="0.55"/><path d="M189.83,483.38 L191.01,484.78 L192.20,483.38" fill="none" stroke="#6E6A64" stroke-width="0.6"/>
<circle cx="351.99" cy="483.16" r="2.16" fill="#FFFFFF" stroke="#85817B" stroke-width="0.55"/><path d="M350.80,483.38 L351.99,484.78 L353.17,483.38" fill="none" stroke="#6E6A64" stroke-width="0.6"/>
<circle cx="194.01" cy="472.36" r="2.16" fill="#FFFFFF" stroke="#85817B" stroke-width="0.55"/><path d="M192.82,472.58 L194.01,473.98 L195.20,472.58" fill="none" stroke="#6E6A64" stroke-width="0.6"/>
<circle cx="348.99" cy="472.36" r="2.16" fill="#FFFFFF" stroke="#85817B" stroke-width="0.55"/><path d="M347.80,472.58 L348.99,473.98 L350.18,472.58" fill="none" stroke="#6E6A64" stroke-width="0.6"/>
<circle cx="201.23" cy="464.34" r="2.16" fill="#FFFFFF" stroke="#85817B" stroke-width="0.55"/><path d="M200.05,464.56 L201.23,465.96 L202.42,464.56" fill="none" stroke="#6E6A64" stroke-width="0.6"/>
<circle cx="341.77" cy="464.34" r="2.16" fill="#FFFFFF" stroke="#85817B" stroke-width="0.55"/><path d="M340.58,464.56 L341.77,465.96 L342.95,464.56" fill="none" stroke="#6E6A64" stroke-width="0.6"/>
<circle cx="212.91" cy="460.09" r="2.16" fill="#FFFFFF" stroke="#85817B" stroke-width="0.55"/><path d="M211.72,460.31 L212.91,461.71 L214.10,460.31" fill="none" stroke="#6E6A64" stroke-width="0.6"/>
<circle cx="330.09" cy="460.09" r="2.16" fill="#FFFFFF" stroke="#85817B" stroke-width="0.55"/><path d="M328.90,460.31 L330.09,461.71 L331.28,460.31" fill="none" stroke="#6E6A64" stroke-width="0.6"/>
<circle cx="217.50" cy="468.20" r="2.27" fill="#FFFFFF" stroke="#85817B" stroke-width="0.55"/><path d="M216.25,468.43 L217.50,469.90 L218.75,468.43" fill="none" stroke="#6E6A64" stroke-width="0.6"/>
<circle cx="325.50" cy="468.20" r="2.27" fill="#FFFFFF" stroke="#85817B" stroke-width="0.55"/><path d="M324.25,468.43 L325.50,469.90 L326.75,468.43" fill="none" stroke="#6E6A64" stroke-width="0.6"/>
<circle cx="207.90" cy="476.50" r="2.27" fill="#FFFFFF" stroke="#85817B" stroke-width="0.55"/><path d="M206.65,476.73 L207.90,478.20 L209.15,476.73" fill="none" stroke="#6E6A64" stroke-width="0.6"/>
<circle cx="335.10" cy="476.50" r="2.27" fill="#FFFFFF" stroke="#85817B" stroke-width="0.55"/><path d="M333.85,476.73 L335.10,478.20 L336.35,476.73" fill="none" stroke="#6E6A64" stroke-width="0.6"/>
<circle cx="199.10" cy="485.70" r="2.27" fill="#FFFFFF" stroke="#85817B" stroke-width="0.55"/><path d="M197.85,485.93 L199.10,487.40 L200.35,485.93" fill="none" stroke="#6E6A64" stroke-width="0.6"/>
<circle cx="343.90" cy="485.70" r="2.27" fill="#FFFFFF" stroke="#85817B" stroke-width="0.55"/><path d="M342.65,485.93 L343.90,487.40 L345.15,485.93" fill="none" stroke="#6E6A64" stroke-width="0.6"/>
<circle cx="191.25" cy="495.75" r="2.27" fill="#FFFFFF" stroke="#85817B" stroke-width="0.55"/><path d="M190.00,495.98 L191.25,497.45 L192.50,495.98" fill="none" stroke="#6E6A64" stroke-width="0.6"/>
<circle cx="351.75" cy="495.75" r="2.27" fill="#FFFFFF" stroke="#85817B" stroke-width="0.55"/><path d="M350.50,495.98 L351.75,497.45 L353.00,495.98" fill="none" stroke="#6E6A64" stroke-width="0.6"/>
<circle cx="185.20" cy="507.90" r="2.27" fill="#FFFFFF" stroke="#85817B" stroke-width="0.55"/><path d="M183.95,508.13 L185.20,509.60 L186.45,508.13" fill="none" stroke="#6E6A64" stroke-width="0.6"/>
<circle cx="357.80" cy="507.90" r="2.27" fill="#FFFFFF" stroke="#85817B" stroke-width="0.55"/><path d="M356.55,508.13 L357.80,509.60 L359.05,508.13" fill="none" stroke="#6E6A64" stroke-width="0.6"/>
<circle cx="180.00" cy="519.20" r="2.27" fill="#FFFFFF" stroke="#85817B" stroke-width="0.55"/><path d="M178.75,519.43 L180.00,520.90 L181.25,519.43" fill="none" stroke="#6E6A64" stroke-width="0.6"/>
<circle cx="363.00" cy="519.20" r="2.27" fill="#FFFFFF" stroke="#85817B" stroke-width="0.55"/><path d="M361.75,519.43 L363.00,520.90 L364.25,519.43" fill="none" stroke="#6E6A64" stroke-width="0.6"/>
<circle cx="176.40" cy="531.00" r="2.27" fill="#FFFFFF" stroke="#85817B" stroke-width="0.55"/><path d="M175.15,531.23 L176.40,532.70 L177.65,531.23" fill="none" stroke="#6E6A64" stroke-width="0.6"/>
<circle cx="366.60" cy="531.00" r="2.27" fill="#FFFFFF" stroke="#85817B" stroke-width="0.55"/><path d="M365.35,531.23 L366.60,532.70 L367.85,531.23" fill="none" stroke="#6E6A64" stroke-width="0.6"/>
<circle cx="228.90" cy="470.00" r="2.27" fill="#FFFFFF" stroke="#85817B" stroke-width="0.55"/><path d="M227.65,470.23 L228.90,471.70 L230.15,470.23" fill="none" stroke="#6E6A64" stroke-width="0.6"/>
<circle cx="314.10" cy="470.00" r="2.27" fill="#FFFFFF" stroke="#85817B" stroke-width="0.55"/><path d="M312.85,470.23 L314.10,471.70 L315.35,470.23" fill="none" stroke="#6E6A64" stroke-width="0.6"/>
<circle cx="217.50" cy="477.40" r="2.27" fill="#FFFFFF" stroke="#85817B" stroke-width="0.55"/><path d="M216.25,477.63 L217.50,479.10 L218.75,477.63" fill="none" stroke="#6E6A64" stroke-width="0.6"/>
<circle cx="325.50" cy="477.40" r="2.27" fill="#FFFFFF" stroke="#85817B" stroke-width="0.55"/><path d="M324.25,477.63 L325.50,479.10 L326.75,477.63" fill="none" stroke="#6E6A64" stroke-width="0.6"/>
<circle cx="207.90" cy="484.80" r="2.27" fill="#FFFFFF" stroke="#85817B" stroke-width="0.55"/><path d="M206.65,485.03 L207.90,486.50 L209.15,485.03" fill="none" stroke="#6E6A64" stroke-width="0.6"/>
<circle cx="335.10" cy="484.80" r="2.27" fill="#FFFFFF" stroke="#85817B" stroke-width="0.55"/><path d="M333.85,485.03 L335.10,486.50 L336.35,485.03" fill="none" stroke="#6E6A64" stroke-width="0.6"/>
<circle cx="199.60" cy="494.00" r="2.27" fill="#FFFFFF" stroke="#85817B" stroke-width="0.55"/><path d="M198.35,494.23 L199.60,495.70 L200.85,494.23" fill="none" stroke="#6E6A64" stroke-width="0.6"/>
<circle cx="343.40" cy="494.00" r="2.27" fill="#FFFFFF" stroke="#85817B" stroke-width="0.55"/><path d="M342.15,494.23 L343.40,495.70 L344.65,494.23" fill="none" stroke="#6E6A64" stroke-width="0.6"/>
<circle cx="191.40" cy="504.80" r="2.27" fill="#FFFFFF" stroke="#85817B" stroke-width="0.55"/><path d="M190.15,505.03 L191.40,506.50 L192.65,505.03" fill="none" stroke="#6E6A64" stroke-width="0.6"/>
<circle cx="351.60" cy="504.80" r="2.27" fill="#FFFFFF" stroke="#85817B" stroke-width="0.55"/><path d="M350.35,505.03 L351.60,506.50 L352.85,505.03" fill="none" stroke="#6E6A64" stroke-width="0.6"/>
<circle cx="184.80" cy="516.80" r="2.27" fill="#FFFFFF" stroke="#85817B" stroke-width="0.55"/><path d="M183.55,517.03 L184.80,518.50 L186.05,517.03" fill="none" stroke="#6E6A64" stroke-width="0.6"/>
<circle cx="358.20" cy="516.80" r="2.27" fill="#FFFFFF" stroke="#85817B" stroke-width="0.55"/><path d="M356.95,517.03 L358.20,518.50 L359.45,517.03" fill="none" stroke="#6E6A64" stroke-width="0.6"/>
<circle cx="180.40" cy="529.50" r="2.27" fill="#FFFFFF" stroke="#85817B" stroke-width="0.55"/><path d="M179.15,529.73 L180.40,531.20 L181.65,529.73" fill="none" stroke="#6E6A64" stroke-width="0.6"/>
<circle cx="362.60" cy="529.50" r="2.27" fill="#FFFFFF" stroke="#85817B" stroke-width="0.55"/><path d="M361.35,529.73 L362.60,531.20 L363.85,529.73" fill="none" stroke="#6E6A64" stroke-width="0.6"/>
<circle cx="176.80" cy="542.25" r="2.27" fill="#FFFFFF" stroke="#85817B" stroke-width="0.55"/><path d="M175.55,542.48 L176.80,543.95 L178.05,542.48" fill="none" stroke="#6E6A64" stroke-width="0.6"/>
<circle cx="366.20" cy="542.25" r="2.27" fill="#FFFFFF" stroke="#85817B" stroke-width="0.55"/><path d="M364.95,542.48 L366.20,543.95 L367.45,542.48" fill="none" stroke="#6E6A64" stroke-width="0.6"/>
<ellipse cx="247.75" cy="429.4" rx="4.6" ry="2.0" fill="#F7F7F5"/>
<path d="M244.95,429.2 l1.3,1.3 M248.15,428.6 l1.2,1.6 M250.35,429.0 l0.9,1.3" stroke="#5A5752" stroke-width="0.9"/>
<ellipse cx="263.0" cy="429.4" rx="4.6" ry="2.0" fill="#F7F7F5"/>
<path d="M260.2,429.2 l1.3,1.3 M263.4,428.6 l1.2,1.6 M265.6,429.0 l0.9,1.3" stroke="#5A5752" stroke-width="0.9"/>
<ellipse cx="279.15" cy="429.4" rx="4.6" ry="2.0" fill="#F7F7F5"/>
<path d="M276.34999999999997,429.2 l1.3,1.3 M279.54999999999995,428.6 l1.2,1.6 M281.75,429.0 l0.9,1.3" stroke="#5A5752" stroke-width="0.9"/>
<ellipse cx="294.75" cy="429.4" rx="4.6" ry="2.0" fill="#F7F7F5"/>
<path d="M291.95,429.2 l1.3,1.3 M295.15,428.6 l1.2,1.6 M297.35,429.0 l0.9,1.3" stroke="#5A5752" stroke-width="0.9"/>
</svg>
</body></html>
